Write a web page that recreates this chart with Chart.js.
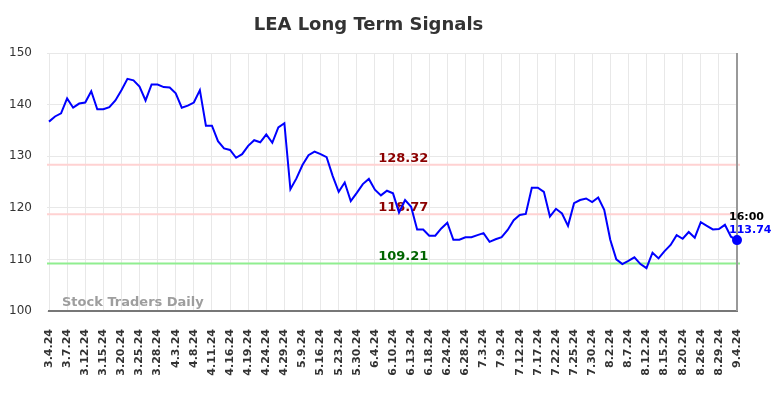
<!DOCTYPE html>
<html lang="en">
<head>
<meta charset="UTF-8">
<title>LEA Long Term Signals</title>
<script src="https://cdn.jsdelivr.net/npm/chart.js@4.4.1/dist/chart.umd.min.js"></script>
<style>
  html, body { margin: 0; padding: 0; background: #fff; }
  #wrap { width: 784px; height: 398px; }
</style>
</head>
<body>
<div id="wrap"><canvas id="chart"></canvas></div>
<script>
// one label every 3 trading days
const tickLabels = [
  '3.4.24', '3.7.24', '3.12.24', '3.15.24', '3.20.24', '3.25.24', '3.28.24', '4.3.24',
  '4.8.24', '4.11.24', '4.16.24', '4.19.24', '4.24.24', '4.29.24', '5.9.24', '5.16.24',
  '5.23.24', '5.30.24', '6.4.24', '6.10.24', '6.13.24', '6.18.24', '6.24.24', '6.28.24',
  '7.3.24', '7.9.24', '7.12.24', '7.17.24', '7.22.24', '7.25.24', '7.30.24', '8.2.24',
  '8.7.24', '8.12.24', '8.15.24', '8.20.24', '8.26.24', '8.29.24', '9.4.24'
];

// closing prices
const prices = [
  136.7, 137.7, 138.3, 141.2, 139.4, 140.2, 140.4, 142.6, 139.1, 139.1,
  139.5, 140.8, 142.8, 145.0, 144.7, 143.5, 140.8, 143.9, 143.9, 143.4,
  143.3, 142.2, 139.4, 139.8, 140.4, 142.8, 135.9, 135.9, 132.9, 131.5,
  131.2, 129.7, 130.4, 132.0, 133.1, 132.7, 134.2, 132.6, 135.6, 136.4,
  123.6, 125.7, 128.3, 130.2, 130.9, 130.4, 129.8, 126.2, 123.1, 124.9,
  121.3, 122.9, 124.6, 125.6, 123.5, 122.4, 123.3, 122.8, 119.1, 121.5,
  120.2, 115.8, 115.8, 114.6, 114.6, 116.0, 117.1, 113.8, 113.8, 114.3,
  114.3, 114.7, 115.1, 113.4, 113.9, 114.3, 115.7, 117.6, 118.6, 118.8,
  123.9, 123.9, 123.1, 118.3, 119.8, 118.9, 116.5, 120.9, 121.5, 121.8,
  121.1, 122.0, 119.6, 113.8, 110.0, 109.1, 109.7, 110.4, 109.1, 108.3,
  111.3, 110.2, 111.6, 112.8, 114.7, 114.0, 115.3, 114.2, 117.2, 116.5,
  115.8, 115.9, 116.7, 114.4, 113.74
];

const levels = [128.32, 118.77, 109.21];
const levelLineColors = ['#ffd2d2', '#ffd2d2', '#90ee90'];
const levelTextColors = ['#8b0000', '#8b0000', '#006400'];
const lastTime = '16:00';

Chart.defaults.font.family = '"DejaVu Sans", sans-serif';

// signal levels, watermark, end marker
const signalLines = {
  id: 'signalLines',
  beforeDatasetsDraw(chart) {
    const { ctx, chartArea: a, scales: { y } } = chart;
    ctx.save();
    ctx.font = 'bold 13px "DejaVu Sans"';
    ctx.fillStyle = '#9e9e9e';
    ctx.textAlign = 'left';
    ctx.textBaseline = 'alphabetic';
    ctx.fillText('Stock Traders Daily', a.left + 13, a.bottom - 5);

    const labelX = a.left + (a.right - a.left) * 0.515;
    levels.forEach((lv, k) => {
      const py = y.getPixelForValue(lv);
      ctx.strokeStyle = levelLineColors[k];
      ctx.lineWidth = 2;
      ctx.beginPath();
      ctx.moveTo(a.left - 2, py);
      ctx.lineTo(a.right + 3, py);
      ctx.stroke();
      ctx.fillStyle = levelTextColors[k];
      ctx.textAlign = 'center';
      ctx.fillText(lv.toFixed(2), labelX, py - 3);
    });

    ctx.strokeStyle = '#999';
    ctx.lineWidth = 2;
    ctx.beginPath();
    ctx.moveTo(a.right, a.top);
    ctx.lineTo(a.right, a.bottom);
    ctx.stroke();
    ctx.restore();
  },
  afterDatasetsDraw(chart) {
    const { ctx, scales: { x, y } } = chart;
    const last = prices.length - 1;
    const px = x.getPixelForValue(last);
    const py = y.getPixelForValue(prices[last]);
    ctx.save();
    ctx.font = 'bold 11px "DejaVu Sans"';
    ctx.textAlign = 'left';
    ctx.fillStyle = '#000';
    ctx.fillText(lastTime, px - 8, py - 20);
    ctx.fillStyle = '#0000ff';
    ctx.fillText(prices[last].toFixed(2), px - 8, py - 7);
    ctx.restore();
  }
};

new Chart(document.getElementById('chart'), {
  type: 'line',
  data: {
    datasets: [{
      data: prices.map((v, i) => ({ x: i, y: v })),
      borderColor: '#0000ff',
      backgroundColor: '#0000ff',
      borderWidth: 2,
      tension: 0,
      clip: false,
      pointRadius: ctx => ctx.dataIndex === prices.length - 1 ? 4 : 0,
      pointHoverRadius: 0
    }]
  },
  options: {
    responsive: true,
    maintainAspectRatio: false,
    animation: false,
    layout: { padding: { left: 0, right: 47, top: 0, bottom: 0 } },
    plugins: {
      legend: { display: false },
      tooltip: { enabled: false },
      title: {
        display: true,
        text: 'LEA Long Term Signals',
        color: '#333',
        font: { size: 18, weight: 'bold' },
        padding: { top: 15, bottom: 16.4 }
      }
    },
    scales: {
      x: {
        type: 'linear',
        min: 0,
        max: prices.length - 1,
        afterFit: s => { s.height = 87; },
        grid: { color: '#e8e8e8', drawTicks: false },
        border: { color: '#777', width: 2 },
        ticks: {
          stepSize: 3,
          autoSkip: false,
          maxRotation: 90,
          minRotation: 90,
          padding: 18,
          color: '#333',
          font: { size: 11, weight: 'bold' },
          callback: v => tickLabels[Math.round(v / 3)] ?? ''
        }
      },
      y: {
        min: 100,
        max: 150,
        afterFit: s => { s.width = 49; },
        grid: { color: '#e8e8e8', tickLength: 2 },
        border: { display: false },
        ticks: {
          stepSize: 10,
          padding: 15,
          color: '#333',
          font: { size: 12 }
        }
      }
    }
  },
  plugins: [signalLines]
});
</script>
</body>
</html>
